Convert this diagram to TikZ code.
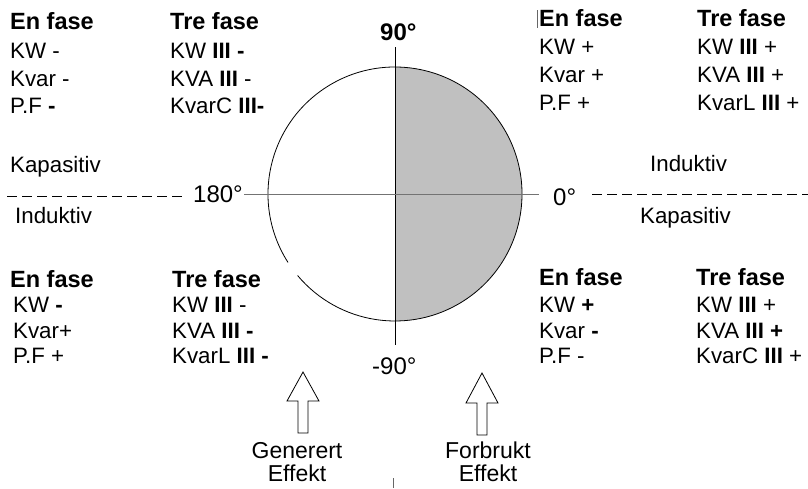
\documentclass[tikz,border=0pt]{standalone}
\usepackage{fontspec}
\setmainfont{Liberation Sans}
\begin{document}
\begin{tikzpicture}[x=1pt,y=-1pt,
  lbl/.style={anchor=base west, inner sep=0pt, font=\fontsize{22.3}{22.3}\selectfont},
  hdr/.style={anchor=base west, inner sep=0pt, font=\fontsize{23.5}{23.5}\selectfont\bfseries},
  deg/.style={anchor=base west, inner sep=0pt, font=\fontsize{24}{24}\selectfont},
  captxt/.style={anchor=base, inner sep=0pt, font=\fontsize{23}{23}\selectfont},
  dashline/.style={line width=1pt, dash pattern=on 10pt off 5pt},
  blockarrow/.style={draw=black, line width=0.8pt, fill=white, line join=miter}]
\useasboundingbox (0,0) rectangle (808,488);
\definecolor{shadegray}{HTML}{C0C0C0}
\coordinate (C) at (395,194);
% shaded half
\begin{scope}
  \clip (395,0) rectangle (808,488);
  \fill[shadegray] (C) circle[radius=127];
\end{scope}
% circle with small gap
\draw[line width=0.8pt] (C) ++(147.4:127) arc[start angle=147.4, end angle=500.1, radius=127];
% axis labels
\node[deg] (l180) at (193,202) {180°};
\node[deg] (l0) at (553,205) {0°};
\node[deg, font=\fontsize{24}{24}\selectfont\bfseries] (l90) at (380,40) {90°};
\node[deg] (lm90) at (372,374) {-90°};
% axes
\coordinate (vt) at (395,47);
\coordinate (vb) at (395,345);
\draw[line width=0.9pt] (vt) -- (vb);
\draw[line width=1pt, black!55] ([xshift=1pt]l180.east |- C) -- ([xshift=-14pt]l0.west |- C);
% dashed lines
\coordinate (dl1) at (7,196);
\coordinate (dl2) at (182,196);
\coordinate (dr1) at (592,194);
\coordinate (dr2) at (808,194);
\draw[dashline] (dl1) -- (dl2);
\draw[dashline] (dr1) -- (dr2);
% side labels
\node[lbl] (kapL) at (10,172) {Kapasitiv};
\node[lbl] (indL) at (15,223) {Induktiv};
\node[lbl] (indR) at (650,171) {Induktiv};
\node[lbl] (kapR) at (640,223) {Kapasitiv};
% top-left block
\node[hdr] (tl1) at (10,29) {En fase};
\node[lbl] (tl2) at (10,58) {KW -};
\node[lbl] (tl3) at (10,86) {Kvar -};
\node[lbl] (tl4) at (10,113) {P.F \textbf{-}};
\node[hdr] (tl5) at (170,29) {Tre fase};
\node[lbl] (tl6) at (170,58) {KW \textbf{III -}};
\node[lbl] (tl7) at (170,86) {KVA \textbf{III} -};
\node[lbl] (tl8) at (170,113) {KvarC \textbf{III-}};
% top-right block
\coordinate (bar1) at (537,10);
\coordinate (bar2) at (537,28);
\draw[black!60, line width=0.6pt] (bar1) -- (bar2);
\node[hdr] (tr1) at (539,26) {En fase};
\node[lbl] (tr2) at (539,54) {KW +};
\node[lbl] (tr3) at (539,82) {Kvar +};
\node[lbl] (tr4) at (539,110) {P.F +};
\node[hdr] (tr5) at (697,26) {Tre fase};
\node[lbl] (tr6) at (697,54) {KW \textbf{III} +};
\node[lbl] (tr7) at (697,82) {KVA \textbf{III} +};
\node[lbl] (tr8) at (697,110) {KvarL \textbf{III} +};
% bottom-left block
\node[hdr] (bl1) at (10,287) {En fase};
\node[lbl] (bl2) at (13,312) {KW \textbf{-}};
\node[lbl] (bl3) at (13,338) {Kvar+};
\node[lbl] (bl4) at (13,363) {P.F +};
\node[hdr] (bl5) at (172,287) {Tre fase};
\node[lbl] (bl6) at (172,312) {KW \textbf{III} -};
\node[lbl] (bl7) at (172,338) {KVA \textbf{III -}};
\node[lbl] (bl8) at (172,363) {KvarL \textbf{III -}};
% bottom-right block
\node[hdr] (br1) at (539,285) {En fase};
\node[lbl] (br2) at (539,312) {KW \textbf{+}};
\node[lbl] (br3) at (539,338) {Kvar \textbf{-}};
\node[lbl] (br4) at (539,363) {P.F -};
\node[hdr] (br5) at (696,285) {Tre fase};
\node[lbl] (br6) at (696,312) {KW \textbf{III} +};
\node[lbl] (br7) at (696,338) {KVA \textbf{III +}};
\node[lbl] (br8) at (696,363) {KvarC \textbf{III} +};
% block arrows
\draw[blockarrow] (303,372) -- (319,401) -- (308,401) -- (308,433) -- (298,433) -- (298,401) -- (287,401) -- cycle;
\draw[blockarrow] (482,373) -- (498,403) -- (487,403) -- (487,435) -- (477,435) -- (477,403) -- (466,403) -- cycle;
% captions
\node[captxt] (gen1) at (297,458) {Generert};
\node[captxt] (gen2) at (297,481) {Effekt};
\node[captxt] (for1) at (488,458) {Forbrukt};
\node[captxt] (for2) at (488,481) {Effekt};
% small tick at bottom
\coordinate (tk1) at (393,478);
\coordinate (tk2) at (393,488);
\draw[black!60, line width=0.6pt] (tk1) -- (tk2);
\end{tikzpicture}
\end{document}
